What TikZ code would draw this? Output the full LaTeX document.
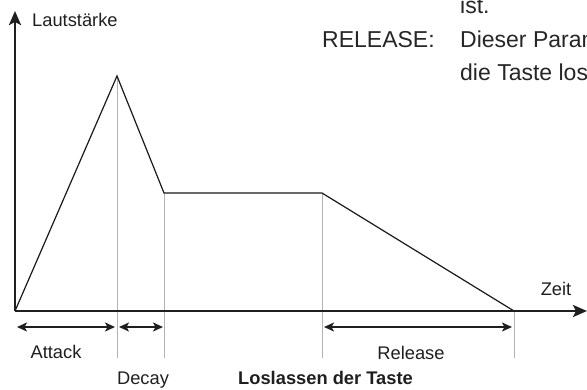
\documentclass[tikz,border=0pt]{standalone}
\usepackage{fontspec}
\setmainfont{Liberation Sans}
\usetikzlibrary{arrows.meta}
\begin{document}
\begin{tikzpicture}[x=1pt,y=-1pt,
  axis/.style={line width=2.5pt, draw=black!88, -{Stealth[length=14pt,width=12pt,inset=3pt]}},
  env/.style={line width=1.2pt, draw=black!90, line join=miter},
  guide/.style={line width=0.8pt, draw=black!30},
  span/.style={line width=1.5pt, draw=black!88, {Stealth[length=10pt,width=9pt,inset=2.5pt]}-{Stealth[length=10pt,width=9pt,inset=2.5pt]}},
  lbl/.style={inner sep=0pt, font=\fontsize{18.3}{21}\selectfont, text=black!88},
  big/.style={inner sep=0pt, font=\fontsize{23}{27}\selectfont, text=black!85}
]
\useasboundingbox (0,0) rectangle (587,389);
\clip (0,0) rectangle (587,389);

% key points
\coordinate (O) at (15,311);
\coordinate (Ytop) at (15,11);
\coordinate (Xend) at (587,311);
\coordinate (P) at (117,76);
\coordinate (S1) at (164,193);
\coordinate (S2) at (322,193);
\coordinate (R) at (514,311);
\coordinate (Pb) at (117,358);
\coordinate (S1b) at (164,358);
\coordinate (S2b) at (322,358);
\coordinate (Rb) at (514,358);

% guide lines
\draw[guide] (P) -- (Pb);
\draw[guide] (S1) -- (S1b);
\draw[guide] (S2) -- (S2b);
\draw[guide] (R) -- (Rb);

% envelope
\draw[env] (O) -- (P) -- (S1) -- (S2) -- (R);

% axes
\draw[axis] (O) -- (Ytop);
\draw[axis] (O) -- (Xend);

% spans
\coordinate (a1) at (17,327);
\coordinate (a2) at (115,327);
\coordinate (d1) at (119,327);
\coordinate (d2) at (163,327);
\coordinate (r1) at (324,327);
\coordinate (r2) at (512,327);
\draw[span] (a1) -- (a2);
\draw[span] (d1) -- (d2);
\draw[span] (r1) -- (r2);

% labels
\node[lbl, anchor=base west] (laut) at (32,26) {Lautstärke};
\node[lbl, anchor=base] (zeit) at (556,295) {Zeit};
\node[lbl, anchor=base] (att) at (56,358) {Attack};
\node[lbl, anchor=base] (dec) at (143,384) {Decay};
\node[lbl, anchor=base] (rel) at (411,359) {Release};
\node[lbl, anchor=base west, font=\fontsize{18.3}{21}\selectfont\bfseries] (los) at (238,384) {Loslassen der Taste};

% text at top right (clipped by the frame)
\node[big, anchor=base west] (ist) at (460,13) {ist.};
\node[big, anchor=base west] (relk) at (322,47) {RELEASE:};
\node[big, anchor=base west] (t1) at (460,47) {Dieser Parameter};
\node[big, anchor=base west] (t2) at (460,80) {die Taste losgelassen};
\end{tikzpicture}
\end{document}
